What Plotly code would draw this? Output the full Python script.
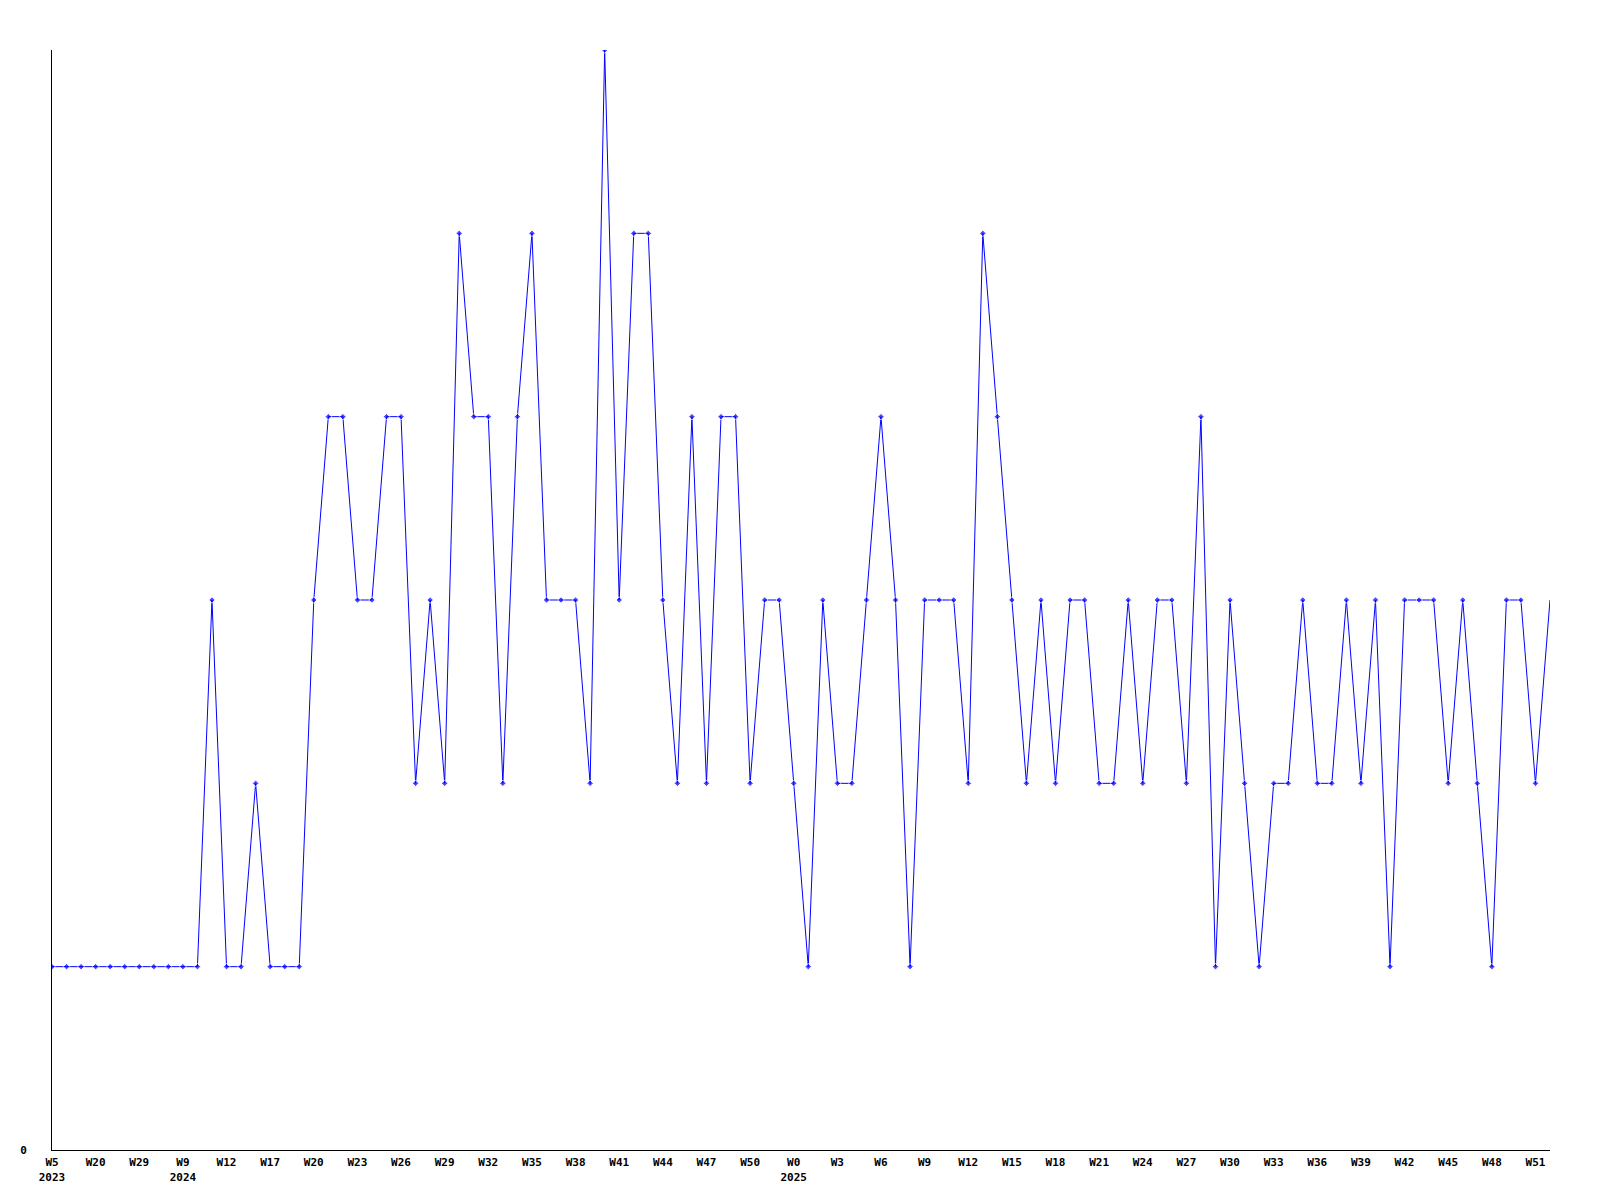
import plotly.graph_objects as go

# Week labels for each point (104 points)
weeks_2023 = ["W5", "W10", "W15", "W20", "W23", "W26", "W29", "W35", "W45"]
weeks_2024 = ["W%d" % w for w in range(9, 13)] + ["W14", "W15"] + ["W%d" % w for w in range(17, 53)]
weeks_2025 = ["W%d" % w for w in range(0, 53)]

categories = (["2023 " + w for w in weeks_2023]
              + ["2024 " + w for w in weeks_2024]
              + ["2025 " + w for w in weeks_2025])

values = [1, 1, 1, 1, 1, 1, 1, 1, 1, 1, 1, 3, 1, 1, 2, 1, 1, 1, 3, 4,
          4, 3, 3, 4, 4, 2, 3, 2, 5, 4, 4, 2, 4, 5, 3, 3, 3, 2, 6, 3,
          5, 5, 3, 2, 4, 2, 4, 4, 2, 3, 3, 2, 1, 3, 2, 2, 3, 4, 3, 1,
          3, 3, 3, 2, 5, 4, 3, 2, 3, 2, 3, 3, 2, 2, 3, 2, 3, 3, 2, 4,
          1, 3, 2, 1, 2, 2, 3, 2, 2, 3, 2, 3, 1, 3, 3, 3, 2, 3, 2, 1,
          3, 3, 2, 3]

first_of_year = {"2023 W5", "2024 W9", "2025 W0"}
tick_vals = categories[::3]
tick_text = []
for c in tick_vals:
    yr, wk = c.split(" ")
    tick_text.append(wk + "<br>" + yr if c in first_of_year else wk)

marker_sizes = [5] * (len(values) - 1) + [0]

fig = go.Figure()
fig.add_trace(go.Scatter(
    x=categories, y=values, mode="lines+markers",
    line=dict(color="#0000ff", width=1),
    marker=dict(symbol="diamond", size=marker_sizes, color="#0000ff"),
    hoverinfo="x+y",
))

font = dict(family="DejaVu Sans Mono", size=11, color="#000000")
fig.update_layout(
    width=1600, height=1200,
    margin=dict(l=42, r=58, t=42, b=58),
    paper_bgcolor="white", plot_bgcolor="white",
    showlegend=False,
    font=font,
    xaxis=dict(
        type="category", range=[0, len(values) - 1],
        tickmode="array", tickvals=tick_vals, ticktext=tick_text,
        showgrid=False, zeroline=False, showline=True, linecolor="black", linewidth=1,
        ticks="", tickangle=0, tickfont=dict(family="DejaVu Sans Mono", size=11, color="black", weight="bold"),
        ticklabelstandoff=2,
    ),
    yaxis=dict(
        range=[0, 6], tickmode="array", tickvals=[0], ticktext=["0"],
        showgrid=False, zeroline=False, showline=True, linecolor="black", linewidth=1,
        ticks="", tickfont=dict(family="DejaVu Sans Mono", size=11, color="black", weight="bold"),
        ticklabelstandoff=22,
    ),
)

fig.write_html("out.html")
